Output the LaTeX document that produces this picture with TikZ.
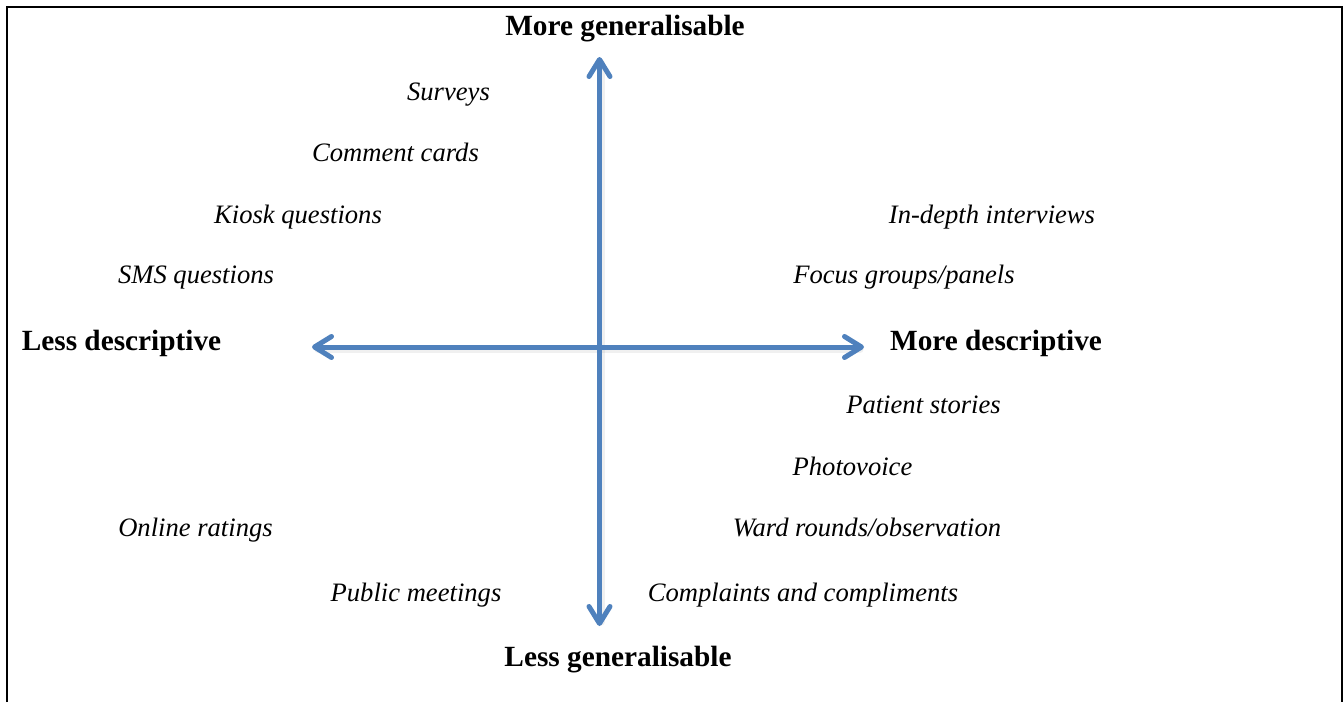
\documentclass[tikz,border=0pt]{standalone}
\usepackage{fontspec}
\setmainfont{Liberation Serif}
\usetikzlibrary{arrows.meta}
\definecolor{axisblue}{HTML}{4F81BD}
\begin{document}
\begin{tikzpicture}[x=1pt,y=-1pt,
  axislabel/.style={inner sep=0pt,anchor=base,font=\fontsize{29.3}{32}\selectfont\bfseries},
  method/.style={inner sep=0pt,anchor=base,font=\fontsize{26.6}{30}\selectfont\itshape},
  axisarrow/.style={draw=axisblue,line width=5pt,line cap=round,line join=round,
    {Straight Barb[length=17pt,width=21pt,round]}-{Straight Barb[length=17pt,width=21pt,round]}},
  axisshadow/.style={draw=black,opacity=0.06,line width=7pt,line cap=round}]
\useasboundingbox (0,0) rectangle (1344,702);
\draw[line width=2pt] (7,702) -- (7,7) -- (1342,7) -- (1342,702);

% axis ends
\coordinate (top) at (599.5,57);
\coordinate (bot) at (599.5,626);
\coordinate (lft) at (312,347);
\coordinate (rgt) at (864,347);

% soft shadow
\coordinate (topS) at (601,63);
\coordinate (botS) at (601,622);
\coordinate (lftS) at (318,349.5);
\coordinate (rgtS) at (860,349.5);
\draw[axisshadow] (topS) -- (botS);
\draw[axisshadow] (lftS) -- (rgtS);

\draw[axisarrow] (bot) -- (top);
\draw[axisarrow] (lft) -- (rgt);

% axis labels
\node[axislabel] (mg) at (625,35) {More generalisable};
\node[axislabel] (lg) at (618,666) {Less generalisable};
\node[axislabel] (ld) at (121.5,350) {Less descriptive};
\node[axislabel] (md) at (996,350) {More descriptive};

% methods
\node[method] (surveys) at (448.5,100) {Surveys};
\node[method] (comment) at (395.5,161) {Comment cards};
\node[method] (kiosk) at (298,223) {Kiosk questions};
\node[method] (sms) at (196,283) {SMS questions};
\node[method] (indepth) at (992,223) {In-depth interviews};
\node[method] (focus) at (904,283) {Focus groups/panels};
\node[method] (patient) at (923.5,413) {Patient stories};
\node[method] (photo) at (852.5,475) {Photovoice};
\node[method] (online) at (195.5,536) {Online ratings};
\node[method] (ward) at (867,536) {Ward rounds/observation};
\node[method] (public) at (416,601) {Public meetings};
\node[method] (complaints) at (803,601) {Complaints and compliments};
\end{tikzpicture}
\end{document}
